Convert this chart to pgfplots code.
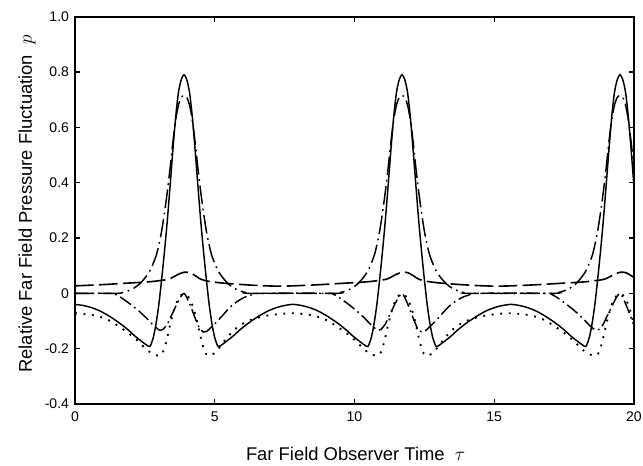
\documentclass[border=0pt]{standalone}
\usepackage{fontspec}
\setmainfont{Liberation Sans}
\usepackage{pgfplots}
\pgfplotsset{compat=1.18}
\begin{document}
\begin{tikzpicture}
\begin{axis}[
  scale only axis,
  width=419.25pt, height=290.5pt,
  xmin=0, xmax=20, ymin=-0.4, ymax=1.0,
  xtick={0,5,10,15,20}, xticklabels={0,5,10,15,20},
  ytick={-0.4,-0.2,0,0.2,0.4,0.6,0.8,1.0},
  yticklabels={-0.4,-0.2,0,0.2,0.4,0.6,0.8,1.0},
  tick align=inside, major tick length=4pt,
  tick style={line width=0.9pt, black},
  axis line style={line width=1.3pt},
  tick label style={font=\fontsize{10.5}{12}\selectfont},
  xticklabel style={yshift=-2pt},
  yticklabel style={xshift=-1pt},
  label style={font=\fontsize{13.8}{16}\selectfont},
  xlabel={Far Field Observer Time\ \ $\tau$},
  ylabel={Relative Far Field Pressure Fluctuation\ \ $p$},
  xlabel style={at={(axis description cs:0.502,-0.1286)}, anchor=center},
  ylabel style={at={(axis description cs:-0.0859,0.5164)}, anchor=center},
  every axis plot/.append style={black, smooth, tension=0.45},
]
% solid
\addplot[line width=1.1pt] coordinates {
(0.0,-0.040)(0.3,-0.044)(0.6,-0.052)(0.9,-0.064)(1.25,-0.084)(1.6,-0.108)(1.9,-0.132)(2.15,-0.155)(2.4,-0.175)(2.55,-0.186)(2.68,-0.192)(2.8,-0.160)(2.9,-0.110)(3.0,-0.040)(3.1,0.050)(3.2,0.150)(3.3,0.260)(3.4,0.385)(3.5,0.515)(3.6,0.635)(3.7,0.725)(3.8,0.772)(3.9,0.790)(4.0,0.772)(4.1,0.725)(4.2,0.635)(4.3,0.515)(4.4,0.385)(4.5,0.260)(4.6,0.150)(4.7,0.050)(4.8,-0.040)(4.9,-0.110)(5.0,-0.160)(5.12,-0.192)(5.25,-0.186)(5.4,-0.175)(5.65,-0.155)(5.9,-0.132)(6.2,-0.108)(6.55,-0.084)(6.9,-0.064)(7.2,-0.052)(7.5,-0.044)
(7.8,-0.040)(8.1,-0.044)(8.4,-0.052)(8.7,-0.064)(9.05,-0.084)(9.4,-0.108)(9.7,-0.132)(9.95,-0.155)(10.2,-0.175)(10.35,-0.186)(10.48,-0.192)(10.6,-0.160)(10.7,-0.110)(10.8,-0.040)(10.9,0.050)(11.0,0.150)(11.1,0.260)(11.2,0.385)(11.3,0.515)(11.4,0.635)(11.5,0.725)(11.6,0.772)(11.7,0.790)(11.8,0.772)(11.9,0.725)(12.0,0.635)(12.1,0.515)(12.2,0.385)(12.3,0.260)(12.4,0.150)(12.5,0.050)(12.6,-0.040)(12.7,-0.110)(12.8,-0.160)(12.92,-0.192)(13.05,-0.186)(13.2,-0.175)(13.45,-0.155)(13.7,-0.132)(14.0,-0.108)(14.35,-0.084)(14.7,-0.064)(15.0,-0.052)(15.3,-0.044)
(15.6,-0.040)(15.9,-0.044)(16.2,-0.052)(16.5,-0.064)(16.85,-0.084)(17.2,-0.108)(17.5,-0.132)(17.75,-0.155)(18.0,-0.175)(18.15,-0.186)(18.28,-0.192)(18.4,-0.160)(18.5,-0.110)(18.6,-0.040)(18.7,0.050)(18.8,0.150)(18.9,0.260)(19.0,0.385)(19.1,0.515)(19.2,0.635)(19.3,0.725)(19.4,0.772)(19.5,0.790)(19.6,0.772)(19.7,0.725)(19.8,0.635)(19.9,0.515)(20.0,0.385)
};
% dotted
\addplot[line width=1.4pt, dash pattern=on 1.4pt off 5pt] coordinates {
(0.0,-0.072)(0.6,-0.078)(1.1,-0.092)(1.5,-0.115)(1.9,-0.143)(2.2,-0.168)(2.4,-0.188)(2.6,-0.207)(2.8,-0.220)(2.95,-0.225)(3.04,-0.225)(3.12,-0.218)(3.2,-0.198)(3.3,-0.160)(3.4,-0.115)(3.5,-0.075)(3.6,-0.042)(3.7,-0.020)(3.8,-0.006)(3.9,-0.002)(4.0,-0.006)(4.1,-0.020)(4.2,-0.042)(4.3,-0.075)(4.4,-0.115)(4.5,-0.160)(4.6,-0.198)(4.68,-0.218)(4.76,-0.225)(4.85,-0.225)(5.0,-0.215)(5.2,-0.192)(5.4,-0.165)(5.7,-0.132)(6.0,-0.110)(6.4,-0.092)(6.9,-0.080)(7.4,-0.074)
(7.8,-0.072)(8.4,-0.078)(8.9,-0.092)(9.3,-0.115)(9.7,-0.143)(10.0,-0.168)(10.2,-0.188)(10.4,-0.207)(10.6,-0.220)(10.75,-0.225)(10.84,-0.225)(10.92,-0.218)(11.0,-0.198)(11.1,-0.160)(11.2,-0.115)(11.3,-0.075)(11.4,-0.042)(11.5,-0.020)(11.6,-0.006)(11.7,-0.002)(11.8,-0.006)(11.9,-0.020)(12.0,-0.042)(12.1,-0.075)(12.2,-0.115)(12.3,-0.160)(12.4,-0.198)(12.48,-0.218)(12.56,-0.225)(12.65,-0.225)(12.8,-0.215)(13.0,-0.192)(13.2,-0.165)(13.5,-0.132)(13.8,-0.110)(14.2,-0.092)(14.7,-0.080)(15.2,-0.074)
(15.6,-0.072)(16.2,-0.078)(16.7,-0.092)(17.1,-0.115)(17.5,-0.143)(17.8,-0.168)(18.0,-0.188)(18.2,-0.207)(18.4,-0.220)(18.55,-0.225)(18.64,-0.225)(18.72,-0.218)(18.8,-0.198)(18.9,-0.160)(19.0,-0.115)(19.1,-0.075)(19.2,-0.042)(19.3,-0.020)(19.4,-0.006)(19.5,-0.002)(19.6,-0.006)(19.7,-0.020)(19.8,-0.042)(19.9,-0.075)(20.0,-0.115)
};
% dash-dot, small dips
\addplot[line width=1.1pt, dash pattern=on 10pt off 3pt on 1.3pt off 3pt] coordinates {
(0.0,0.000)(1.3,0.000)(1.45,-0.004)(1.6,-0.012)(1.8,-0.026)(2.03,-0.043)(2.33,-0.068)(2.6,-0.094)(2.8,-0.115)(2.95,-0.128)(3.05,-0.134)(3.15,-0.130)(3.3,-0.112)(3.4,-0.090)(3.5,-0.070)(3.6,-0.048)(3.7,-0.028)(3.8,-0.010)(3.9,0.000)(4.0,-0.015)(4.15,-0.050)(4.3,-0.090)(4.45,-0.125)(4.6,-0.140)(4.7,-0.138)(4.85,-0.125)(5.1,-0.100)(5.35,-0.072)(5.55,-0.050)(5.8,-0.030)(6.05,-0.015)(6.3,-0.006)(6.6,0.000)
(9.1,0.000)(9.25,-0.004)(9.4,-0.012)(9.6,-0.026)(9.83,-0.043)(10.13,-0.068)(10.4,-0.094)(10.6,-0.115)(10.75,-0.128)(10.85,-0.134)(10.95,-0.130)(11.1,-0.112)(11.2,-0.090)(11.3,-0.070)(11.4,-0.048)(11.5,-0.028)(11.6,-0.010)(11.7,0.000)(11.8,-0.015)(11.95,-0.050)(12.1,-0.090)(12.25,-0.125)(12.4,-0.140)(12.5,-0.138)(12.65,-0.125)(12.9,-0.100)(13.15,-0.072)(13.35,-0.050)(13.6,-0.030)(13.85,-0.015)(14.1,-0.006)(14.4,0.000)
(16.9,0.000)(17.05,-0.004)(17.2,-0.012)(17.4,-0.026)(17.63,-0.043)(17.93,-0.068)(18.2,-0.094)(18.4,-0.115)(18.55,-0.128)(18.65,-0.134)(18.75,-0.130)(18.9,-0.112)(19.0,-0.090)(19.1,-0.070)(19.2,-0.048)(19.3,-0.028)(19.4,-0.010)(19.5,0.000)(19.6,-0.015)(19.75,-0.050)(19.9,-0.090)(20.0,-0.115)
};
% dash-dot, broad peak
\addplot[line width=1.1pt, dash pattern=on 14pt off 3.5pt on 1.3pt off 3.5pt] coordinates {
(0.0,0.000)(1.5,0.000)(1.7,0.003)(1.9,0.009)(2.1,0.018)(2.3,0.033)(2.5,0.055)(2.7,0.085)(2.9,0.135)(3.0,0.175)(3.1,0.225)(3.2,0.290)(3.3,0.365)(3.4,0.450)(3.5,0.545)(3.6,0.625)(3.7,0.680)(3.8,0.708)(3.9,0.715)(4.0,0.708)(4.1,0.680)(4.2,0.625)(4.3,0.545)(4.4,0.450)(4.5,0.365)(4.6,0.290)(4.7,0.225)(4.8,0.175)(4.9,0.135)(5.1,0.085)(5.3,0.055)(5.5,0.033)(5.7,0.018)(5.9,0.009)(6.1,0.003)(6.3,0.000)
(9.3,0.000)(9.5,0.003)(9.7,0.009)(9.9,0.018)(10.1,0.033)(10.3,0.055)(10.5,0.085)(10.7,0.135)(10.8,0.175)(10.9,0.225)(11.0,0.290)(11.1,0.365)(11.2,0.450)(11.3,0.545)(11.4,0.625)(11.5,0.680)(11.6,0.708)(11.7,0.715)(11.8,0.708)(11.9,0.680)(12.0,0.625)(12.1,0.545)(12.2,0.450)(12.3,0.365)(12.4,0.290)(12.5,0.225)(12.6,0.175)(12.7,0.135)(12.9,0.085)(13.1,0.055)(13.3,0.033)(13.5,0.018)(13.7,0.009)(13.9,0.003)(14.1,0.000)
(17.1,0.000)(17.3,0.003)(17.5,0.009)(17.7,0.018)(17.9,0.033)(18.1,0.055)(18.3,0.085)(18.5,0.135)(18.6,0.175)(18.7,0.225)(18.8,0.290)(18.9,0.365)(19.0,0.450)(19.1,0.545)(19.2,0.625)(19.3,0.680)(19.4,0.708)(19.5,0.715)(19.6,0.708)(19.7,0.680)(19.8,0.625)(19.9,0.545)(20.0,0.450)
};
% long dashed
\addplot[line width=1.2pt, dash pattern=on 14pt off 4pt] coordinates {
(0.0,0.027)(0.9,0.031)(1.9,0.037)(2.7,0.042)(3.3,0.050)(3.5,0.058)(3.7,0.069)(3.9,0.076)(4.1,0.075)(4.3,0.064)(4.5,0.051)(4.8,0.043)(5.4,0.036)(6.4,0.029)(7.2,0.026)
(7.8,0.027)(8.7,0.031)(9.7,0.037)(10.5,0.042)(11.1,0.050)(11.3,0.058)(11.5,0.069)(11.7,0.076)(11.9,0.075)(12.1,0.064)(12.3,0.051)(12.6,0.043)(13.2,0.036)(14.2,0.029)(15.0,0.026)
(15.6,0.027)(16.5,0.031)(17.5,0.037)(18.3,0.042)(18.9,0.050)(19.1,0.058)(19.3,0.069)(19.5,0.076)(19.7,0.075)(19.9,0.064)(20.0,0.057)
};
\coordinate (bl) at (rel axis cs:0,0);
\coordinate (tr) at (rel axis cs:1,1);
\end{axis}
\pgfresetboundingbox
\path ([shift={(-56.25pt,-46.5pt)}]bl) rectangle ([shift={(6.75pt,12.5pt)}]tr);
\end{tikzpicture}
\end{document}
